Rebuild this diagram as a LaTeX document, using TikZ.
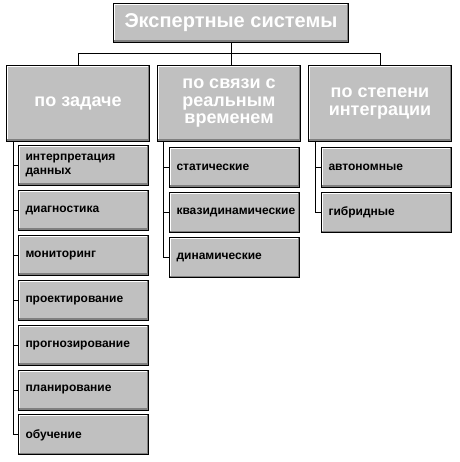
\documentclass[tikz,border=0pt]{standalone}
\usepackage{fontspec}
\setmainfont{Liberation Sans}
\definecolor{boxgray}{HTML}{C0C0C0}
\definecolor{shadegray}{HTML}{808080}
\tikzset{
	bevelbox/.style={draw=black, line width=1pt, fill=boxgray, inner sep=0pt, anchor=north west,
		path picture={
			\draw[white, line width=3pt] (path picture bounding box.south west) |- (path picture bounding box.north east);
			\draw[shadegray, line width=4pt] (path picture bounding box.south west) -| (path picture bounding box.north east);
		}},
	headbox/.style={bevelbox, text=white, font=\fontsize{18}{17.5}\selectfont\bfseries, align=center, minimum width=143pt, minimum height=76pt},
	itembox/.style={bevelbox, font=\fontsize{12}{13.5}\selectfont\bfseries, text width=116pt, inner xsep=7pt, minimum height=40pt, align=left},
}
\begin{document}
\begin{tikzpicture}[x=1pt, y=-1pt, line width=1pt]

	\useasboundingbox (0,0) rectangle (459,462);

	\node[bevelbox, text=white, font=\fontsize{20}{20}\selectfont\bfseries, minimum width=235pt, minimum height=39pt] (es) at (113,3) {Экспертные системы};

	\node[headbox] (bytask) at (6,65) {по задаче};
	\node[headbox] (bytime) at (157,65) {по связи с\\реальным\\временем};
	\node[headbox] (byinteg) at (308,65) {по степени\\интеграции};

	\draw (es.south) -- (es.south |- bytime.north);
	\draw (bytask.north) -- ++(0,-11) -| (byinteg.north);

	\foreach \lbl [count=\i] in {{интерпретация\\данных}, диагностика, мониторинг, проектирование, прогнозирование, планирование, обучение}
		\node[itembox] (task\i) at (18,{145+44.9*(\i-1)}) {\lbl};
	\foreach \lbl [count=\i] in {статические, квазидинамические, динамические}
		\node[itembox] (time\i) at (169,{147+45*(\i-1)}) {\lbl};
	\foreach \lbl [count=\i] in {автономные, гибридные}
		\node[itembox] (integ\i) at (321,{147+45*(\i-1)}) {\lbl};

	\foreach \i in {1,...,7}
		\draw ([xshift=7pt]bytask.south west) |- (task\i.west);
	\foreach \i in {1,...,3}
		\draw ([xshift=6pt]bytime.south west) |- (time\i.west);
	\foreach \i in {1,2}
		\draw ([xshift=7pt]byinteg.south west) |- (integ\i.west);

\end{tikzpicture}
\end{document}
